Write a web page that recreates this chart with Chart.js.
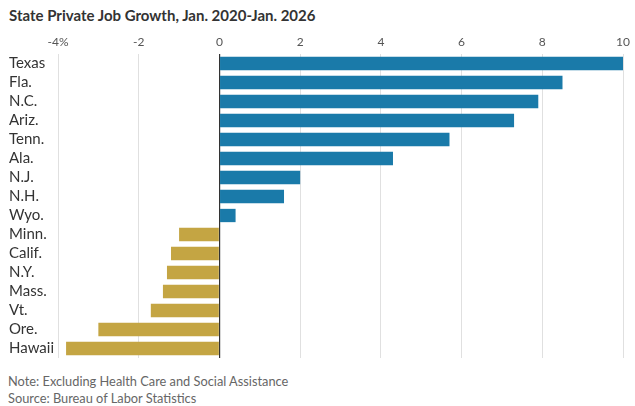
<!DOCTYPE html>
<html>
<head>
<meta charset="utf-8">
<script src="https://cdn.jsdelivr.net/npm/chart.js@4.4.1/dist/chart.umd.min.js"></script>
<style>
    body { margin: 0; background: #fff; font-family: Lato, "Open Sans", sans-serif; }
    #title { position: absolute; left: 9px; top: 6px; font-size: 15px; font-weight: bold; color: #333; }
    #wrap { position: absolute; left: 0; top: 31px; width: 635px; height: 336px; }
    #notes { position: absolute; left: 8px; top: 373px; font-size: 12.8px; color: #666; line-height: 17px; }
</style>
</head>
<body>
<div id="title">State Private Job Growth, Jan. 2020-Jan. 2026</div>
<div id="wrap"><canvas id="barChart"></canvas></div>
<div id="notes">Note: Excluding Health Care and Social Assistance<br>Source: Bureau of Labor Statistics</div>
<script>
const states = ['Texas', 'Fla.', 'N.C.', 'Ariz.', 'Tenn.', 'Ala.', 'N.J.', 'N.H.', 'Wyo.',
    'Minn.', 'Calif.', 'N.Y.', 'Mass.', 'Vt.', 'Ore.', 'Hawaii'];
const growth = [10.0, 8.5, 7.9, 7.3, 5.7, 4.3, 2.0, 1.6, 0.4,
    -1.0, -1.2, -1.3, -1.4, -1.7, -3.0, -3.8];
const xTicks = [-4, -2, 0, 2, 4, 6, 8, 10];

const blue = '#1a7aa9';
const gold = '#c4a543';

const ctx = document.getElementById('barChart').getContext('2d');
const barChart = new Chart(ctx, {
    type: 'bar',
    data: {
        labels: states,
        datasets: [{
            data: growth,
            backgroundColor: growth.map(v => v >= 0 ? blue : gold),
            barPercentage: 0.7,
            categoryPercentage: 1.0,
        }]
    },
    options: {
        indexAxis: 'y',
        responsive: true,
        maintainAspectRatio: false,
        animation: false,
        layout: { padding: { left: 9, right: 9, top: 0, bottom: 7 } },
        plugins: {
            legend: { display: false },
            tooltip: { enabled: false }
        },
        scales: {
            x: {
                position: 'top',
                min: -4,
                max: 10,
                afterBuildTicks: (scale) => {
                    scale.ticks = xTicks.map(v => ({ value: v }));
                },
                afterFit: (scale) => { scale.height = 23; },
                border: { display: false },
                grid: {
                    drawTicks: false,
                    color: (c) => c.tick && c.tick.value === 0 ? '#333' : '#e0e0e0',
                    lineWidth: (c) => c.tick && c.tick.value === 0 ? 1.2 : 1,
                },
                ticks: {
                    padding: 5,
                    color: '#555',
                    font: { family: 'Lato', size: 12 },
                    callback: (v) => v === -4 ? '-4%' : String(v),
                }
            },
            y: {
                afterFit: (scale) => { scale.width = 49; },
                border: { display: false },
                grid: { display: false, drawTicks: false },
                ticks: {
                    autoSkip: false,
                    crossAlign: 'far',
                    padding: 0,
                    color: '#333',
                    font: { family: 'Lato', size: 15 },
                }
            }
        }
    }
});
</script>
</body>
</html>
